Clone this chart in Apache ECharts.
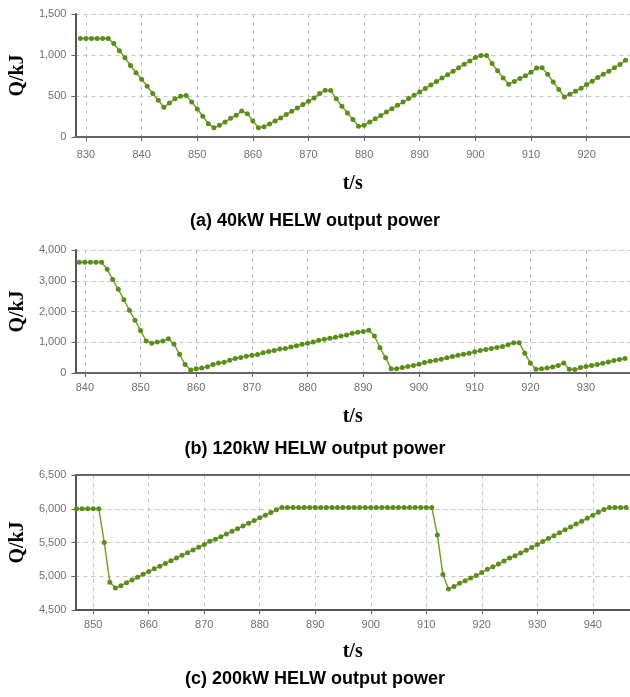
<!DOCTYPE html>
<html>
<head>
<meta charset="utf-8">
<script src="https://cdn.jsdelivr.net/npm/echarts@6/dist/echarts.min.js"></script>
<style>
html,body{margin:0;padding:0;background:#fff;}
#chart{width:630px;height:697px;}
</style>
</head>
<body>
<div id="chart"></div>
<script>
// ---- data ----
const titleA = '(a) 40kW HELW output power';
const titleB = '(b) 120kW HELW output power';
const titleC = '(c) 200kW HELW output power';
const xName = 't/s';
const yName = 'Q/kJ';

// sample times start (1 s step)
const tStartA = 829;
const tStartB = 839;
const tStartC = 847;

const valuesA = [
  1200,1200,1200,1200,1200,1200,
  1141,1052,966,872,783,705,620,530,448,363,
  416,465,497,505,428,342,253,163,112,143,
  183,228,265,318,285,196,114,126,159,196,
  232,273,314,355,395,436,477,530,571,567,
  465,375,293,212,130,143,183,222,262,305,
  345,386,426,468,510,550,592,634,676,718,
  760,802,845,886,928,968,995,995,897,807,
  721,644,678,712,746,790,840,843,766,672,
  579,489,522,558,595,640,681,726,766,803,
  844,885,937
];
const valuesB = [
  3600,3600,3600,3600,3600,
  3370,3040,2720,2385,2040,1715,1385,1040,970,1005,
  1040,1110,940,610,275,100,140,163,205,280,
  325,350,416,471,504,548,580,602,657,701,
  734,778,800,843,887,931,964,1008,1062,1095,
  1128,1161,1205,1238,1292,1325,1347,1391,1205,821,
  493,142,142,175,208,241,285,340,383,416,
  449,493,537,580,613,646,690,734,767,800,
  832,865,920,986,986,646,329,120,142,164,
  197,241,329,120,110,175,208,241,274,318,
  361,405,438,471
];
const valuesC = [
  6000,6000,6000,6000,6000,
  5500,4910,4825,4860,4905,4945,4985,5030,5070,5110,
  5150,5190,5230,5270,5310,5350,5390,5430,5470,5520,
  5550,5585,5625,5665,5705,5745,5785,5825,5865,5905,
  5945,5985,
  6020,6020,6020,6020,6020,6020,6020,6020,6020,6020,
  6020,6020,6020,6020,6020,6020,6020,6020,6020,6020,
  6020,6020,6020,6020,6020,6020,6020,6020,
  5610,5025,4810,4850,4895,4935,4975,5010,5055,5105,
  5140,5180,5225,5270,5305,5345,5385,5425,5470,5515,
  5560,5600,5645,5690,5730,5775,5815,5860,5905,5950,
  5990,6020,6020,6020,6020
];

const xTicksA = [830,840,850,860,870,880,890,900,910,920];
const xTicksB = [840,850,860,870,880,890,900,910,920,930];
const xTicksC = [850,860,870,880,890,900,910,920,930,940];

// ---- chart ----
const fmt = v => String(v).replace(/\B(?=(\d{3})+(?!\d))/g, ',');
const toPairs = (start, vals) => vals.map((v, i) => [start + i, v]);

const panels = [
  {grid:{left:67, top:14, right:0, height:123}, xmin:828.1, xmax:927.8, ymin:0, ymax:1500, yint:500,
   ticks:xTicksA, data:toPairs(tStartA, valuesA), xGap:37, yGap:39, title:titleA, titleY:212, lblM:12},
  {grid:{left:71, top:250, right:0, height:123}, xmin:838.3, xmax:937.9, ymin:0, ymax:4000, yint:1000,
   ticks:xTicksB, data:toPairs(tStartB, valuesB), xGap:34, yGap:43, title:titleB, titleY:440, lblM:9},
  {grid:{left:73, top:475, right:0, height:135}, xmin:846.8, xmax:946.7, ymin:4500, ymax:6500, yint:500,
   ticks:xTicksC, data:toPairs(tStartC, valuesC), xGap:32, yGap:45, title:titleC, titleY:670, lblM:9}
];

const grids = [], xAxes = [], yAxes = [], series = [], titles = [];
panels.forEach((p, i) => {
  grids.push(p.grid);
  xAxes.push({
    gridIndex:i, type:'value', min:p.xmin, max:p.xmax,
    axisLine:{show:true, onZero:false, lineStyle:{color:'#555', width:2}},
    axisTick:{show:true, customValues:p.ticks, length:4, lineStyle:{color:'#666'}},
    axisLabel:{customValues:p.ticks, color:'#707070', fontSize:11, fontFamily:'Liberation Sans', margin:p.lblM},
    splitLine:{show:true, lineStyle:{type:[4,4], color:'#c4c4c4', width:1}},
    name:xName, nameLocation:'middle', nameGap:p.xGap,
    nameTextStyle:{fontFamily:'Liberation Serif', fontWeight:'bold', fontSize:20, color:'#000'}
  });
  xAxes.push({
    gridIndex:i, type:'value', min:p.xmin, max:p.xmax, position:'top',
    axisLine:{show:true, lineStyle:{color:'#666', width:2}},
    axisTick:{show:false}, axisLabel:{show:false}, splitLine:{show:false}
  });
  yAxes.push({
    gridIndex:i, type:'value', min:p.ymin, max:p.ymax, interval:p.yint,
    axisLine:{show:true, lineStyle:{color:'#555', width:2}},
    axisTick:{show:true, length:4, lineStyle:{color:'#666'}},
    axisLabel:{color:'#707070', fontSize:11, fontFamily:'Liberation Sans', margin:9, formatter:fmt},
    splitLine:{show:true, lineStyle:{type:[4,4], color:'#c4c4c4', width:1}},
    name:yName, nameLocation:'middle', nameGap:p.yGap, nameRotate:90,
    nameTextStyle:{fontFamily:'Liberation Serif', fontWeight:'bold', fontSize:20, color:'#000'}
  });
  series.push({
    type:'line', xAxisIndex:2*i, yAxisIndex:i, data:p.data,
    symbol:'circle', symbolSize:5, showSymbol:true,
    lineStyle:{color:'#74a12e', width:1.5},
    itemStyle:{color:'#5b8d1c'},
    animation:false, silent:true
  });
  titles.push({
    text:p.title, left:315, top:p.titleY, textAlign:'center', padding:0,
    textStyle:{fontFamily:'Liberation Sans', fontWeight:'bold', fontSize:18, color:'#000'}
  });
});

const chart = echarts.init(document.getElementById('chart'), null, {renderer:'canvas'});
chart.setOption({
  animation:false,
  backgroundColor:'#fff',
  title:titles,
  grid:grids,
  xAxis:xAxes,
  yAxis:yAxes,
  series:series
});
</script>
</body>
</html>
